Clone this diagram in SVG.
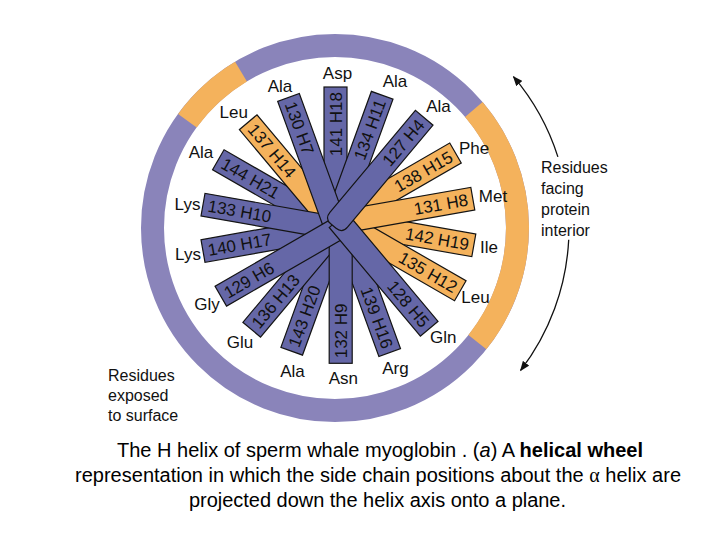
<svg xmlns="http://www.w3.org/2000/svg" width="719" height="539" viewBox="0 0 719 539">
<style>
.b{fill:#6567a7;stroke:#141414;stroke-width:1.2}
.o{fill:#f4b25c;stroke:#141414;stroke-width:1.2}
.t{font-family:"Liberation Sans",Arial,sans-serif;font-size:17px;fill:#111}
.ts{font-family:"Liberation Sans",Arial,sans-serif;font-size:17px;fill:#111;text-anchor:start}
.te{font-family:"Liberation Sans",Arial,sans-serif;font-size:17px;fill:#111;text-anchor:end}
.lab{font-family:"Liberation Sans",Arial,sans-serif;font-size:17px;fill:#111;text-anchor:middle}
.ann{font-family:"Liberation Sans",Arial,sans-serif;font-size:16px;fill:#111}
.cap{font-family:"Liberation Sans",Arial,sans-serif;font-size:20px;fill:#000}
.arc{fill:none;stroke:#111;stroke-width:1.3;marker-end:url(#ah)}
</style>
<defs>
<marker id="ah" viewBox="0 0 10 8" refX="9" refY="4" markerWidth="10" markerHeight="8" markerUnits="userSpaceOnUse" orient="auto">
<path d="M0,0 L10,4 L0,8 Z" fill="#111"/>
</marker>
</defs>
<rect width="719" height="539" fill="#fff"/>
<g id="ring">
<circle cx="335" cy="228" r="182.5" fill="none" stroke="#8a84ba" stroke-width="23"/>
<path d="M477.4,342.1 A182.5,182.5 0 0 0 473.8,109.5" fill="none" stroke="#f4b25c" stroke-width="23"/>
<path d="M241,71.6 A182.5,182.5 0 0 0 187.4,120.7" fill="none" stroke="#f4b25c" stroke-width="23"/>
</g>
<g id="connectors">
<path class="arc" d="M557.9,156.9 A234,234 0 0 0 513.5,76.7"/>
<path class="arc" d="M568.7,239.8 A234,234 0 0 1 520.6,370.4"/>
</g>
<g id="res144"><g transform="translate(218.3,159.7) rotate(30)"><rect class="b" x="0" y="-11.5" width="143.4" height="23"/><text class="ts" x="5" y="6">144 H21</text></g><text class="lab" x="201" y="158">Ala</text></g>
<g id="res143"><g transform="translate(291.7,351.2) rotate(-70)"><rect class="b" x="0" y="-11.5" width="136.3" height="23"/><text class="ts" x="5" y="6">143 H20</text></g><text class="lab" x="292.5" y="377">Ala</text></g>
<g id="res142"><g transform="translate(473.8,245.3) rotate(10)"><rect class="o" x="-143.8" y="-11.5" width="143.8" height="23"/><text class="te" x="-5" y="6">142 H19</text></g><text class="lab" x="489" y="253">Ile</text></g>
<g id="res141"><g transform="translate(335.5,87) rotate(-90)"><rect class="b" x="-148" y="-11.5" width="148" height="23"/><text class="te" x="-5" y="6">141 H18</text></g><text class="lab" x="337.5" y="79">Asp</text></g>
<g id="res140"><g transform="translate(203,251) rotate(-10)"><rect class="b" x="0" y="-11.5" width="141.8" height="23"/><text class="ts" x="5" y="6">140 H17</text></g><text class="lab" x="188" y="260">Lys</text></g>
<g id="res139"><g transform="translate(389.7,352.5) rotate(70)"><rect class="b" x="-140.3" y="-11.5" width="140.3" height="23"/><text class="te" x="-5" y="6">139 H16</text></g><text class="lab" x="395.5" y="374">Arg</text></g>
<g id="res138"><g transform="translate(455.5,153) rotate(-30)"><rect class="o" x="-146.8" y="-11.5" width="146.8" height="23"/><text class="te" x="-5" y="6">138 H15</text></g><text class="lab" x="474" y="154">Phe</text></g>
<g id="res137"><g transform="translate(248.2,122.2) rotate(50)"><rect class="o" x="0" y="-11.5" width="144.9" height="23"/><text class="ts" x="5" y="6">137 H14</text></g><text class="lab" x="233.7" y="118">Leu</text></g>
<g id="res136"><g transform="translate(251.7,329.7) rotate(-50)"><rect class="b" x="0" y="-11.5" width="138" height="23"/><text class="ts" x="5" y="6">136 H13</text></g><text class="lab" x="240" y="348">Glu</text></g>
<g id="res135"><g transform="translate(460.3,290.8) rotate(30)"><rect class="o" x="-143.9" y="-11.5" width="143.9" height="23"/><text class="te" x="-5" y="6">135 H12</text></g><text class="lab" x="475.5" y="303">Leu</text></g>
<g id="res134"><g transform="translate(382.2,95.3) rotate(-70)"><rect class="b" x="-147.1" y="-11.5" width="147.1" height="23"/><text class="te" x="-5" y="6">134 H11</text></g><text class="lab" x="395" y="87">Ala</text></g>
<g id="res133"><g transform="translate(203,204.7) rotate(10)"><rect class="b" x="0" y="-11.5" width="142.2" height="23"/><text class="ts" x="5" y="6">133 H10</text></g><text class="lab" x="187.5" y="209.5">Lys</text></g>
<g id="res132"><g transform="translate(340.7,363.3) rotate(-90)"><rect class="b" x="0" y="-11.5" width="140.4" height="23"/><text class="ts" x="5" y="6">132 H9</text></g><text class="lab" x="343.3" y="384">Asn</text></g>
<g id="res131"><g transform="translate(472.8,198.7) rotate(-10)"><rect class="o" x="-145.1" y="-11.5" width="145.1" height="23"/><text class="te" x="-5" y="6">131 H8</text></g><text class="lab" x="493" y="201.5">Met</text></g>
<g id="res130"><g transform="translate(288.5,97.5) rotate(70)"><rect class="b" x="0" y="-11.5" width="146.2" height="23"/><text class="ts" x="5" y="6">130 H7</text></g><text class="lab" x="280" y="91.5">Ala</text></g>
<g id="res129"><g transform="translate(220.8,296.2) rotate(-30)"><rect class="b" x="0" y="-11.5" width="140.2" height="23"/><text class="ts" x="5" y="6">129 H6</text></g><text class="lab" x="207" y="310">Gly</text></g>
<g id="res128"><g transform="translate(429.2,328.7) rotate(50)"><rect class="b" x="-141.8" y="-11.5" width="141.8" height="23"/><text class="te" x="-5" y="6">128 H5</text></g><text class="lab" x="443.3" y="342.5">Gln</text></g>
<g id="res127"><g transform="translate(424.2,117.8) rotate(-50)"><path class="b" d="M0,-11.5 H-133 Q-141.3,-11.5 -141.3,-3.5 V3.5 Q-141.3,11.5 -133,11.5 H0 Z"/><text class="te" x="-5" y="6">127 H4</text></g><text class="lab" x="438.5" y="111.5">Ala</text></g>
<g id="note-interior"><text class="ann" x="541" y="173">Residues</text><text class="ann" x="541" y="194">facing</text><text class="ann" x="541" y="215">protein</text><text class="ann" x="541" y="236">interior</text></g>
<g id="note-surface"><text class="ann" x="108" y="381">Residues</text><text class="ann" x="108" y="401">exposed</text><text class="ann" x="108" y="421">to surface</text></g>
<g id="caption">
<text class="cap" x="117" y="457" textLength="526">The H helix of sperm whale myoglobin . (<tspan font-style="italic">a</tspan>) A <tspan font-weight="bold">helical wheel</tspan></text>
<text class="cap" x="75" y="482" textLength="606">representation in which the side chain positions about the <tspan font-family="'Liberation Serif',serif">α</tspan> helix are</text>
<text class="cap" x="189" y="507" textLength="377">projected down the helix axis onto a plane.</text>
</g>
</svg>
